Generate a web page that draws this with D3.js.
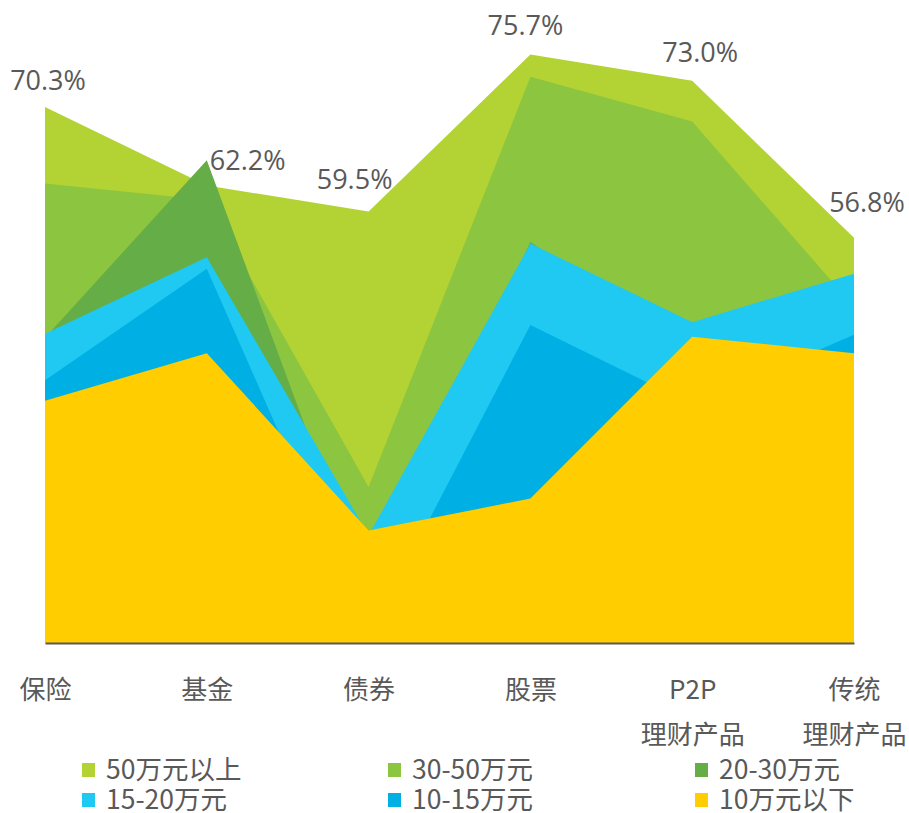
<!DOCTYPE html>
<html><head><meta charset="utf-8">
<script src="https://cdn.jsdelivr.net/npm/d3@7/dist/d3.min.js"></script>
<style>body{margin:0;background:#fff}</style>
</head><body><svg id="c" width="909" height="813"></svg>
<script>
// ---- data ----
const categories = ["保险", "基金", "债券", "股票", "P2P|理财产品", "传统|理财产品"];
const seriesNames = ["50万元以上", "30-50万元", "20-30万元", "15-20万元", "10-15万元", "10万元以下"];
const s50plus  = [70.3, 62.2, 59.5, 75.7, 73.0, 56.8];
const s30to50  = [62.4, 60.7, 31.1, 73.4, 68.8, 49.7];
const s20to30  = [46.5, 64.8, 19.6, 56.4, 44.2, 48.3];
const s15to20  = [46.9, 54.8, 26.1, 56.2, 48.1, 53.1];
const s10to15  = [42.1, 53.6, 15.7, 47.8, 39.6, 46.8];
const sBelow10 = [40.0, 44.9, 26.6, 29.9, 46.6, 44.9];
const topLabels = ["70.3%", "62.2%", "59.5%", "75.7%", "73.0%", "56.8%"];
const yDomain = [15, 80];

// ---- style / layout ----
const colors = ["#b3d334", "#8cc540", "#65ad46", "#1fc9f2", "#00b0e4", "#ffcd00"];
const textColor = "#595959";
const labelOffsets = [[3, -17], [3, -15], [-14, -23], [-5, -20], [8, -19], [13, -26]];

const allSeries = [s50plus, s30to50, s20to30, s15to20, s10to15, sBelow10];
const svg = d3.select("#c");

const x = d3.scalePoint().domain(categories).range([45, 854]);
const y = d3.scaleLinear().domain(yDomain).range([643, 643 - (yDomain[1] - yDomain[0]) * 9.694]);

const area = d3.area()
  .x((d, i) => x(categories[i]))
  .y0(y(yDomain[0]))
  .y1(d => y(d));

svg.append("g").selectAll("path")
  .data(allSeries)
  .join("path")
  .attr("d", d => area(d))
  .attr("fill", (d, i) => colors[i]);

// axis
const ax = svg.append("g")
  .attr("transform", `translate(0,${y(yDomain[0])})`)
  .call(d3.axisBottom(x).tickSize(0).tickSizeOuter(0).tickFormat(""));
ax.select(".domain").attr("stroke", textColor).attr("stroke-width", 2);
ax.selectAll(".tick text").remove();
ax.selectAll(".tick").each(function(d) {
  const parts = d.split("|");
  const t = d3.select(this).append("text")
    .attr("text-anchor", "middle")
    .attr("fill", textColor)
    .style("font-family", "'Noto Sans CJK SC', sans-serif")
    .style("font-size", "26px");
  parts.forEach((p, k) => {
    t.append("tspan").attr("x", 0).attr("y", 56 + k * 45).text(p);
  });
});

// value labels (top series)
svg.append("g").selectAll("text")
  .data(s50plus)
  .join("text")
  .attr("x", (d, i) => x(categories[i]) + labelOffsets[i][0])
  .attr("y", (d, i) => y(d) + labelOffsets[i][1])
  .attr("text-anchor", (d, i) => i === 1 ? "start" : "middle")
  .attr("fill", textColor)
  .style("font-family", "'Open Sans', sans-serif")
  .style("font-size", "27px")
  .text((d, i) => topLabels[i]);

// legend
const legendX = [82, 388, 695];
const legendY = [770, 800];
const lg = svg.append("g").selectAll("g")
  .data(seriesNames)
  .join("g")
  .attr("transform", (d, i) => `translate(${legendX[i % 3]},${legendY[Math.floor(i / 3)]})`);
lg.append("rect").attr("x", 0).attr("y", -7).attr("width", 13).attr("height", 14)
  .attr("fill", (d, i) => colors[i]);
lg.append("text").attr("x", 24).attr("y", 9)
  .attr("fill", textColor)
  .style("font-family", "'Noto Sans CJK SC', sans-serif")
  .style("font-size", "26.5px")
  .text(d => d);
</script>
</body></html>
